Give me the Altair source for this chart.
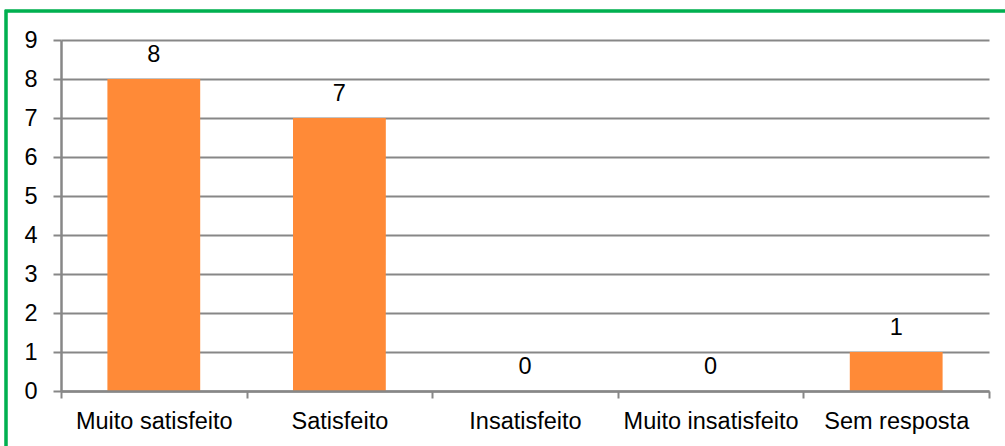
import altair as alt
import pandas as pd

# Survey answers and their counts
categorias = ["Muito satisfeito", "Satisfeito", "Insatisfeito", "Muito insatisfeito", "Sem resposta"]
respostas = [8, 7, 0, 0, 1]

df = pd.DataFrame({"categoria": categorias, "respostas": respostas})

FONT = "Liberation Sans"
GRID = "#878787"
ORANGE = "#FF8A37"
W, H = 928, 351

x_enc = alt.X(
    "categoria:N",
    sort=categorias,
    title=None,
    scale=alt.Scale(paddingInner=0, paddingOuter=0),
    axis=alt.Axis(
        labelAngle=0,
        tickBand="extent",
        tickSize=7,
        tickWidth=2,
        tickColor=GRID,
        domainColor=GRID,
        domainWidth=2.5,
        labelPadding=11,
        labelFontSize=23.5,
        labelFont=FONT,
        labelColor="#000000",
        grid=False,
        zindex=1,
    ),
)
y_enc = alt.Y(
    "respostas:Q",
    title=None,
    scale=alt.Scale(domain=[0, 9], nice=False),
    axis=alt.Axis(
        values=list(range(0, 10)),
        tickSize=8,
        tickWidth=2,
        tickColor=GRID,
        domainColor=GRID,
        domainWidth=2.5,
        gridColor=GRID,
        gridWidth=1.8,
        labelPadding=16,
        labelFontSize=23.5,
        labelFont=FONT,
        labelColor="#000000",
    ),
)

base = alt.Chart(df).encode(x=x_enc, y=y_enc)

bars = base.mark_bar(
    color=ORANGE,
    width=alt.RelativeBandSize(0.5),
)

labels = base.mark_text(
    baseline="alphabetic",
    dy=-17,
    fontSize=23.5,
    font=FONT,
    color="#000000",
).encode(text="respostas:Q")

# Green frame around the whole chart
frame = alt.Chart(df).mark_rect(
    fill=None, stroke="#00B050", strokeWidth=2.5
).encode(
    x=alt.value(-55),
    x2=alt.value(W + 40),
    y=alt.value(-29),
    y2=alt.value(H + 80),
)

chart = (
    alt.layer(frame, bars, labels)
    .properties(
        width=W,
        height=H,
        autosize=alt.AutoSizeParams(type="none"),
        padding={"left": 61, "top": 40, "right": 16, "bottom": 55},
        background="#FFFFFF",
    )
    .configure_view(stroke=None)
)

chart.save("out.html", embed_options={"renderer": "svg", "actions": False})
